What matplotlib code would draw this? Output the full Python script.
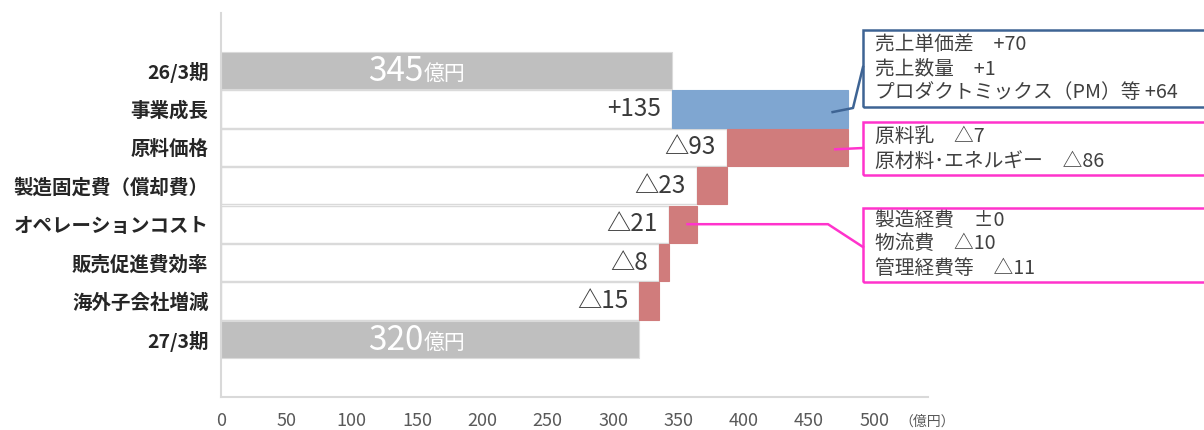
import numpy as np
import matplotlib
matplotlib.use('Agg')
import matplotlib.pyplot as plt
from matplotlib.lines import Line2D
from matplotlib.patches import Rectangle

plt.rcParams['font.family'] = ['Noto Sans CJK JP', 'DejaVu Sans']

# ---- data ----
categories = ['26/3期', '事業成長', '原料価格', '製造固定費（償却費）',
              'オペレーションコスト', '販売促進費効率', '海外子会社増減', '27/3期']
changes = [345, 135, -93, -23, -21, -8, -15, 320]
change_labels = ['345', '+135', '△93', '△23', '△21', '△8', '△15', '320']
x_ticks = [0, 50, 100, 150, 200, 250, 300, 350, 400, 450, 500]
unit_label = '（億円）'
total_unit = '億円'

box_blue_lines = ['売上単価差　+70', '売上数量　+1', 'プロダクトミックス（PM）等 +64']
box_raw_lines = ['原料乳　△7', '原材料･エネルギー　△86']
box_ops_lines = ['製造経費　±0', '物流費　△10', '管理経費等　△11']

# colours
c_total = '#BFBFBF'
c_up = '#7FA6D1'
c_down = '#D07C7C'
c_edge = '#DADADA'
c_blue_line = '#3E6494'
c_pink_line = '#FF33CC'

W, H = 1204, 430
fig = plt.figure(figsize=(W / 100, H / 100), dpi=100)
ax = fig.add_axes([221 / W, 33 / H, (928 - 221) / W, (397 - 13) / H])


def fpx(x, y):
    # pixel (from top-left) -> figure fraction
    return x / W, 1 - y / H


# waterfall geometry
n = len(categories)
rows = np.arange(n)
lefts, widths, colors = [], [], []
running = 0
for i, v in enumerate(changes):
    if i == 0 or i == n - 1:
        lefts.append(0)
        widths.append(v)
        colors.append(c_total)
        running = v
    else:
        start = running
        running = running + v
        lefts.append(min(start, running))
        widths.append(abs(v))
        colors.append(c_up if v > 0 else c_down)

bh = 0.97
# invisible (white) base bars with faint outline
for i in range(1, n - 1):
    ax.barh(rows[i], lefts[i], left=0, height=bh, color='white',
            edgecolor=c_edge, linewidth=1, zorder=1)
ax.barh(rows, widths, left=lefts, height=bh, color=colors,
        edgecolor=[c_edge if c == c_total else c for c in colors],
        linewidth=0.8, zorder=2)

# labels
for i in range(n):
    if i == 0 or i == n - 1:
        ax.text(155, rows[i] + 0.02, change_labels[i], ha='right', va='center',
                fontsize=24, color='white', zorder=3)
        ax.text(155, rows[i] + 0.08, total_unit, ha='left', va='center',
                fontsize=15, color='white', zorder=3)
    else:
        ax.annotate(change_labels[i], xy=(lefts[i], rows[i]),
                    xytext=(-8, 0), textcoords='offset points',
                    ha='right', va='center', fontsize=17.5, color='#3A3A3A', zorder=3)

ax.set_xlim(0, 541)
ax.set_ylim(n - 0.5 + 1.0, -1.5)
ax.set_yticks(rows)
ax.set_yticklabels(categories, fontsize=14, fontweight='bold', color='#262626')
ax.set_xticks(x_ticks)
ax.set_xticklabels([str(t) for t in x_ticks], fontsize=13, color='#595959')
ax.tick_params(axis='both', length=0)
ax.tick_params(axis='y', pad=9)
ax.tick_params(axis='x', pad=11)
for s in ['top', 'right']:
    ax.spines[s].set_visible(False)
for s in ['left', 'bottom']:
    ax.spines[s].set_color('#D9D9D9')
    ax.spines[s].set_linewidth(1.5)
ax.text(519, -0.063, unit_label, transform=ax.get_xaxis_transform(),
        ha='left', va='center', fontsize=10, color='#595959')

# ---- callout boxes ----
to_fig = fig.transFigure.inverted()


def dfig(x, y):
    return tuple(to_fig.transform(ax.transData.transform((x, y))))


def callout(y0, y1, lines, line_y, color):
    x0, yb = fpx(863, y1)
    x1, yt = fpx(1220, y0)
    fig.add_artist(Rectangle((x0, yb), x1 - x0, yt - yb, transform=fig.transFigure,
                             fill=False, edgecolor=color, linewidth=1.8))
    for s, yy in zip(lines, line_y):
        tx, ty = fpx(875, yy)
        fig.text(tx, ty, s, ha='left', va='center', fontsize=14.2, color='#404040')


callout(30, 107, box_blue_lines, [45, 69, 93], c_blue_line)
callout(122, 175, box_raw_lines, [137, 161], c_pink_line)
callout(208, 282, box_ops_lines, [220, 244, 268], c_pink_line)

# connectors
p0 = dfig(468, rows[1] + 0.08)
p1 = fpx(853, 108)
p2 = fpx(863, 67)
fig.add_artist(Line2D([p0[0], p1[0], p2[0]], [p0[1], p1[1], p2[1]],
                      transform=fig.transFigure, color=c_blue_line, linewidth=1.8))

p0 = dfig(470, rows[2] + 0.05)
p1 = fpx(863, 148)
fig.add_artist(Line2D([p0[0], p1[0]], [p0[1], p1[1]],
                      transform=fig.transFigure, color=c_pink_line, linewidth=1.8))

p0 = dfig(357, rows[4])
p1 = (fpx(828, 0)[0], p0[1])
p2 = fpx(863, 247)
fig.add_artist(Line2D([p0[0], p1[0], p2[0]], [p0[1], p1[1], p2[1]],
                      transform=fig.transFigure, color=c_pink_line, linewidth=1.8))

fig.savefig('out.png', dpi=100)
